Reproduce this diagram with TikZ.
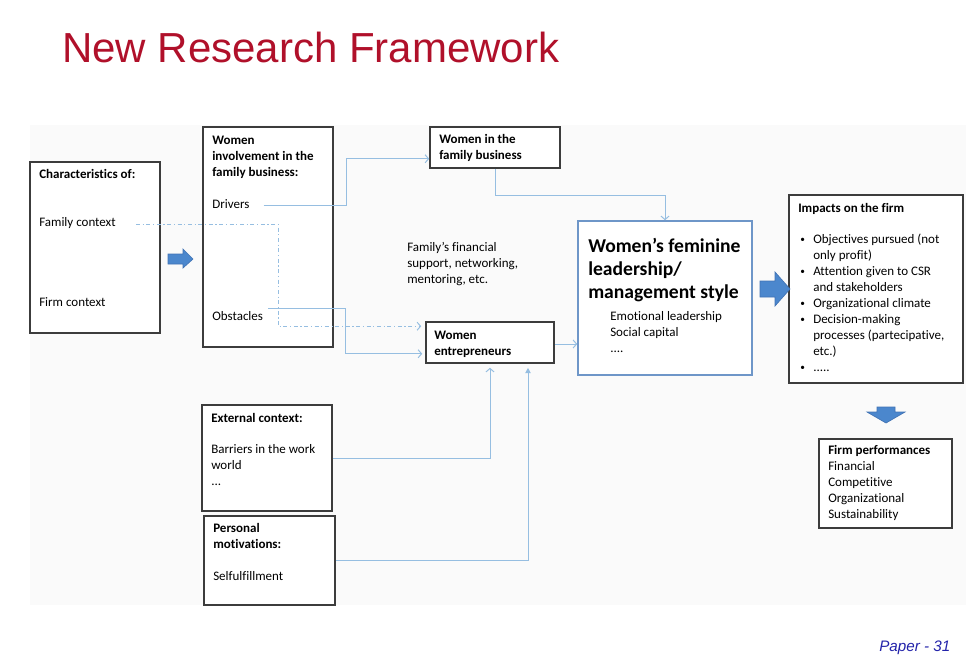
\documentclass[tikz,border=0pt]{standalone}
\usepackage{fontspec}
\setmainfont[Ligatures=NoCommon]{Carlito}
\newfontfamily\titlefont{Liberation Sans}
\usetikzlibrary{arrows.meta,calc,fit}
\definecolor{titlered}{RGB}{176,16,42}
\definecolor{boxgray}{RGB}{60,60,60}
\definecolor{linkblue}{RGB}{150,190,225}
\definecolor{leadblue}{RGB}{110,150,200}
\definecolor{fatblue}{RGB}{75,135,205}
\definecolor{fatedge}{RGB}{65,115,180}
\definecolor{pagenum}{RGB}{35,35,170}
\definecolor{panel}{RGB}{250,250,250}
\tikzset{
	box/.style={draw=boxgray, line width=1.15pt, inner sep=0pt, fill=white},
	leadbox/.style={box, draw=leadblue},
	txt/.style={font=\fontsize{9.75}{12}\selectfont, inner sep=0pt, anchor=base west, align=left},
	hd/.style={txt, font=\fontsize{9.75}{12}\selectfont\bfseries},
	big/.style={txt, font=\fontsize{14.7}{16.9}\selectfont\bfseries},
	dot/.style={txt, font=\fontsize{7}{12}\selectfont},
	link/.style={draw=linkblue, line width=0.75pt, -{Straight Barb[length=2.6pt,width=6pt]}},
	fat/.style={fill=fatblue, draw=fatedge, line width=0.5pt},
}
\begin{document}
\begin{tikzpicture}[x=0.75pt, y=-0.75pt]
	\useasboundingbox (0,0) rectangle (979,668);
	\fill[panel] (30,125) rectangle (966,605);
	\node[anchor=base west, inner sep=0pt, text=titlered, font=\titlefont\fontsize{31.5}{36}\selectfont] (title) at (62,62) {New Research Framework};
	\node[anchor=base west, inner sep=0pt, text=pagenum, font=\titlefont\itshape\fontsize{11.4}{13}\selectfont] (page) at (879,651) {Paper - 31};
	% boxes
	\node[box, fit={(30,162) (160,333)}] (chr) {};
	\node[box, fit={(203,127) (333,347)}] (inv) {};
	\node[box, fit={(430,127) (560,168)}] (wifb) {};
	\node[box, fit={(426,322) (554,363)}] (we) {};
	\node[leadbox, fit={(578,221) (752,375)}] (lead) {};
	\node[box, fit={(789,195) (963,383)}] (imp) {};
	\node[box, fit={(819,439) (952,528)}] (perf) {};
	\node[box, fit={(202,405) (332,511)}] (ext) {};
	\node[box, fit={(204,516) (335,605)}] (pers) {};
	% texts (multi-line nodes sit on their last line)
	\node[hd] (chrhd) at (39,178) {Characteristics of:};
	\node[txt] (fam) at (39,226) {Family context};
	\node[txt] (firm) at (39,306) {Firm context};
	\node[hd] (invhd) at (212,176) {Women\\involvement in the\\family business:};
	\node[txt] (drv) at (212,208) {Drivers};
	\node[txt] (obs) at (212,320) {Obstacles};
	\node[hd] (wifbhd) at (439,159) {Women in the\\family business};
	\node[txt] (supp) at (407,283) {Family’s financial\\support, networking,\\mentoring, etc.};
	\node[hd] (wehd) at (434,355) {Women\\entrepreneurs};
	\node[big] (leadhd) at (588,298) {Women’s feminine\\leadership/\\management style};
	\node[txt] (leadtxt) at (610,352) {Emotional leadership\\Social capital\\....};
	\node[hd] (imphd) at (798,212) {Impacts on the firm};
	\node[txt] (imptxt) at (813,371) {Objectives pursued (not\\only profit)\\Attention given to CSR\\and stakeholders\\Organizational climate\\Decision-making\\processes (partecipative,\\etc.)\\.....};
	\foreach \y in {243,275,307,323,371}
		\node[dot] at (800,\y-1) {•};
	\node[hd] (perfhd) at (828,454) {Firm performances};
	\node[txt] (perftxt) at (828,518) {Financial\\Competitive\\Organizational\\Sustainability};
	\node[hd] (exthd) at (211,422) {External context:};
	\node[txt] (exttxt) at (211,485) {Barriers in the work\\world\\...};
	\node[hd] (pershd) at (213,548) {Personal\\motivations:};
	\node[txt] (perstxt) at (213,580) {Selfulfillment};
	% connectors
	\draw[link] ($(drv.base east)+(14,-3)$) -- ++(83,0) |- ($(wifb.south west)+(0,-10)$);
	\draw[link, dash pattern=on 3pt off 2pt on 0.8pt off 2pt] ($(fam.base east)+(20,-2)$) -- ++(142,0) |- ($(we.north west)+(-4,5)$);
	\draw[link] ($(obs.base east)+(5,-12)$) -- ++(77,0) |- ($(we.south west)+(-3,-10)$);
	\draw[link] (wifb.south) -- ++(0,27) -| (lead.north);
	\draw[link] ($(we.east)+(0,1.5)$) -- ($(we.east -| lead.west)+(0,1.5)$);
	\draw[link] (ext.east) -| ($(we.south)+(0,4)$);
	\draw[link, -{Triangle[length=4pt,width=4pt]}] (pers.east) -| ($(we.south)+(38,4)$);
	% block arrows
	\filldraw[fat] (168,254) -- (183,254) -- (183,249) -- (193,259) -- (183,268) -- (183,264) -- (168,264) -- cycle;
	\filldraw[fat] (760,281) -- (775,281) -- (775,272) -- (790,289) -- (775,306) -- (775,297) -- (760,297) -- cycle;
	\filldraw[fat] (877,407) -- (895,407) -- (895,412) -- (905,412) -- (886,423) -- (867,412) -- (877,412) -- cycle;
\end{tikzpicture}
\end{document}
